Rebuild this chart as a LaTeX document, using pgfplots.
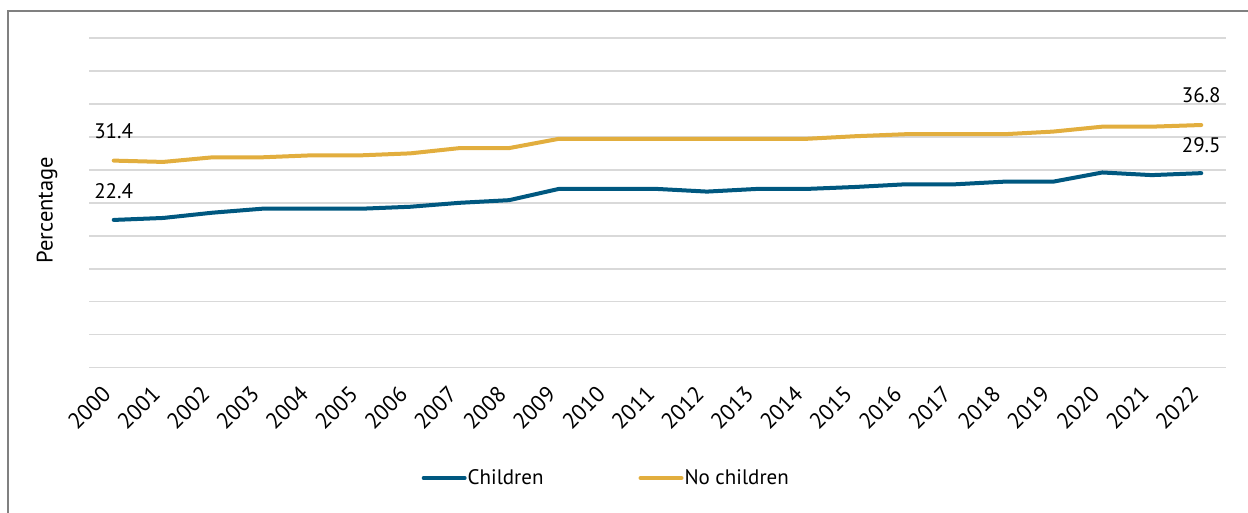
\documentclass[border=0pt]{standalone}
\usepackage{fontspec}
\setmainfont{PT Sans}
\usepackage{pgfplots}
\pgfplotsset{compat=1.18}
\definecolor{cblue}{RGB}{0,88,128}
\definecolor{cgold}{RGB}{226,174,62}
\definecolor{cgrid}{RGB}{217,217,217}
\newcommand{\fs}{\fontsize{21}{25}\selectfont}
\newcommand{\fl}{\fontsize{22.5}{27}\selectfont}
\begin{document}
\begin{tikzpicture}[x=1pt,y=1pt]
\useasboundingbox (0,0) rectangle (1248,512);
\draw[line width=1.5pt, color=black!50] (8,-20) -- (8,501) -- (1270,501);
\begin{axis}[
  at={(89pt,144.4pt)}, anchor=south west,
  scale only axis, width=1137pt, height=329.6pt,
  xmin=-0.5, xmax=22.5, ymin=0, ymax=50,
  ytick={0,5,...,50}, yticklabels={},
  ymajorgrids, grid style={line width=1.6pt, color=cgrid},
  xtick={0,...,22},
  xticklabels={2000,2001,2002,2003,2004,2005,2006,2007,2008,2009,2010,2011,2012,2013,2014,2015,2016,2017,2018,2019,2020,2021,2022},
  major tick length=0pt,
  axis line style={draw=none},
  /pgf/number format/assume math mode=true,
  xticklabel style={font=\fl, inner sep=0pt, xshift=-7pt, yshift=-23pt, rotate=45, anchor=east},
  ylabel={Percentage},
  ylabel style={font=\fl, at={(axis description cs:-0.037,0.478)}, anchor=center},
  legend columns=2,
  legend style={draw=none, fill=none, font=\fs, at={(axis description cs:0.4545,-0.335)}, anchor=center,
    /tikz/every even column/.append style={column sep=94pt},
    nodes={inner sep=1pt}},
  legend image code/.code={\draw[#1, line width=4pt, line cap=round] (0pt,0pt) -- (41pt,0pt);},
  every axis plot/.append style={line width=4pt, line cap=round, line join=round},
  clip=false,
]
\addplot[color=cblue] coordinates {
(0,22.4) (1,22.7) (2,23.5) (3,24.1) (4,24.1) (5,24.1) (6,24.4) (7,25.0) (8,25.4) (9,27.1) (10,27.1) (11,27.1) (12,26.7) (13,27.1) (14,27.1) (15,27.4) (16,27.8) (17,27.8) (18,28.2) (19,28.2) (20,29.6) (21,29.2) (22,29.5)};
\addlegendentry{Children}
\addplot[color=cgold] coordinates {
(0,31.4) (1,31.2) (2,31.9) (3,31.9) (4,32.2) (5,32.2) (6,32.5) (7,33.3) (8,33.3) (9,34.7) (10,34.7) (11,34.7) (12,34.7) (13,34.7) (14,34.7) (15,35.1) (16,35.4) (17,35.4) (18,35.4) (19,35.8) (20,36.55) (21,36.55) (22,36.8)};
\addlegendentry{No children}
\node[font=\fs, anchor=center, yshift=29pt] at (axis cs:0,31.4) {31.4};
\node[font=\fs, anchor=center, yshift=29pt] at (axis cs:0,22.4) {22.4};
\node[font=\fs, anchor=center, yshift=30pt] at (axis cs:22,36.8) {36.8};
\node[font=\fs, anchor=center, yshift=28pt] at (axis cs:22,29.5) {29.5};
\end{axis}
\end{tikzpicture}
\end{document}
